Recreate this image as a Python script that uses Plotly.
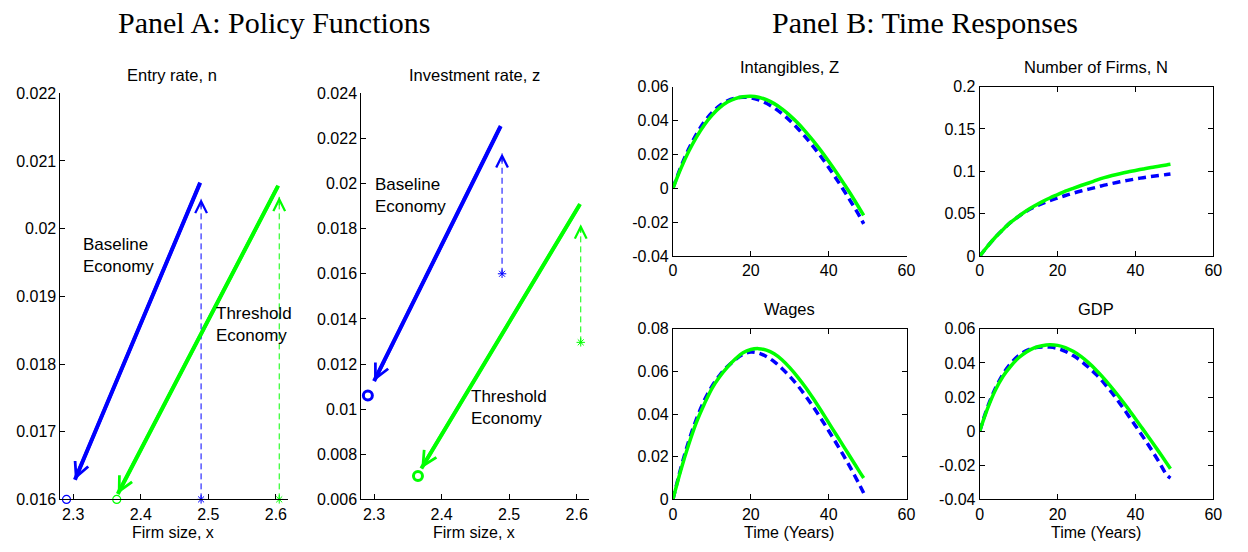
import plotly.graph_objects as go

# ---------------- data ----------------
# Panel A: policy functions (firm size x on horizontal axis)
# Entry rate, n
n_base_line_x = [2.488, 2.3025]
n_base_line_y = [0.02068, 0.01629]
n_thr_line_x = [2.6035, 2.3659]
n_thr_line_y = [0.020635, 0.01608]
n_base_jump_x = [2.4893, 2.4893]
n_base_jump_y = [0.0160, 0.02044]
n_thr_jump_x = [2.605, 2.605]
n_thr_jump_y = [0.0160, 0.02047]
n_base_circle = [2.290, 0.0160]
n_thr_circle = [2.3644, 0.0160]
n_text_base = [2.311, 0.01961]
n_text_thr = [2.509, 0.018578]

# Investment rate, z
z_base_line_x = [2.4875, 2.300]
z_base_line_y = [0.02255, 0.01124]
z_thr_line_x = [2.605, 2.370]
z_thr_line_y = [0.01909, 0.00737]
z_base_jump_x = [2.4895, 2.4895]
z_base_jump_y = [0.0160, 0.02134]
z_thr_jump_x = [2.606, 2.606]
z_thr_jump_y = [0.01296, 0.01819]
z_base_circle = [2.2908, 0.0106]
z_thr_circle = [2.365, 0.00704]
z_text_base = [2.298, 0.019476]
z_text_thr = [2.441, 0.010094]

# Panel B: time responses
t = [0, 2, 4, 6, 8, 10, 12, 14, 16, 18, 20, 22, 24, 26, 28, 30, 32, 34, 36, 38, 40, 42, 44, 46, 48, 49]

Z_base = [0, 0.0125, 0.0230, 0.0318, 0.0390, 0.0445, 0.0487, 0.0515, 0.0531, 0.0537, 0.0533, 0.0521, 0.0501,
          0.0474, 0.0440, 0.0400, 0.0354, 0.0303, 0.0247, 0.0187, 0.0123, 0.0055, -0.0016, -0.0090, -0.0167, -0.0210]
Z_thr = [0, 0.0115, 0.0215, 0.0300, 0.0372, 0.0430, 0.0475, 0.0508, 0.0529, 0.0540, 0.0543, 0.0537, 0.0522,
         0.0499, 0.0468, 0.0430, 0.0386, 0.0336, 0.0281, 0.0222, 0.0159, 0.0093, 0.0024, -0.0047, -0.0122, -0.0160]

N_base = [0, 0.0115, 0.0222, 0.0315, 0.0400, 0.0468, 0.0530, 0.0580, 0.0620, 0.0655, 0.0685, 0.0715, 0.0742,
          0.0767, 0.0790, 0.0812, 0.0837, 0.0857, 0.0876, 0.0893, 0.0910, 0.0925, 0.0938, 0.0950, 0.0962, 0.0968]
N_thr = [0, 0.0115, 0.0222, 0.0315, 0.0400, 0.0470, 0.0535, 0.0590, 0.0640, 0.0685, 0.0725, 0.0765, 0.0800,
         0.0833, 0.0862, 0.0895, 0.0925, 0.0950, 0.0972, 0.0992, 0.1010, 0.1028, 0.1045, 0.1060, 0.1075, 0.1082]

W_base = [0, 0.0145, 0.0270, 0.0375, 0.0462, 0.0530, 0.0582, 0.0623, 0.0655, 0.0680, 0.0691, 0.0686, 0.0670,
          0.0646, 0.0614, 0.0577, 0.0535, 0.0487, 0.0435, 0.0380, 0.0322, 0.0262, 0.0200, 0.0135, 0.0066, 0.0030]
W_thr = [0, 0.0135, 0.0255, 0.0360, 0.0445, 0.0520, 0.0575, 0.0620, 0.0658, 0.0688, 0.0703, 0.0707, 0.0700,
         0.0683, 0.0655, 0.0618, 0.0575, 0.0527, 0.0474, 0.0418, 0.0360, 0.0302, 0.0244, 0.0186, 0.0128, 0.0100]

Y_base = [0, 0.0140, 0.0250, 0.0335, 0.0398, 0.0443, 0.0472, 0.0488, 0.0494, 0.0493, 0.0485, 0.0468, 0.0443,
          0.0412, 0.0373, 0.0330, 0.0280, 0.0224, 0.0163, 0.0098, 0.0032, -0.0035, -0.0105, -0.0178, -0.0255, -0.0275]
Y_thr = [0, 0.0132, 0.0240, 0.0322, 0.0382, 0.0430, 0.0464, 0.0488, 0.0501, 0.0507, 0.0503, 0.0490, 0.0468,
         0.0438, 0.0400, 0.0356, 0.0307, 0.0253, 0.0196, 0.0136, 0.0073, 0.0009, -0.0055, -0.0120, -0.0186, -0.0220]

# tick labels
xA_ticks = [2.3, 2.4, 2.5, 2.6]
xA_text = ["2.3", "2.4", "2.5", "2.6"]
yn_ticks = [0.016, 0.017, 0.018, 0.019, 0.020, 0.021, 0.022]
yn_text = ["0.016", "0.017", "0.018", "0.019", "0.02", "0.021", "0.022"]
yz_ticks = [0.006, 0.008, 0.010, 0.012, 0.014, 0.016, 0.018, 0.020, 0.022, 0.024]
yz_text = ["0.006", "0.008", "0.01", "0.012", "0.014", "0.016", "0.018", "0.02", "0.022", "0.024"]
xB_ticks = [0, 20, 40, 60]
xB_text = ["0", "20", "40", "60"]
yZ_ticks = [-0.04, -0.02, 0, 0.02, 0.04, 0.06]
yZ_text = ["-0.04", "-0.02", "0", "0.02", "0.04", "0.06"]
yN_ticks = [0, 0.05, 0.1, 0.15, 0.2]
yN_text = ["0", "0.05", "0.1", "0.15", "0.2"]
yW_ticks = [0, 0.02, 0.04, 0.06, 0.08]
yW_text = ["0", "0.02", "0.04", "0.06", "0.08"]

# ---------------- styling ----------------
W, H = 1248, 552
BLUE = "rgb(0,0,255)"
GREEN = "rgb(0,255,0)"
SANS = "Liberation Sans, Arial, sans-serif"
SERIF = "Liberation Serif, Times New Roman, serif"


def xd(a, b):
    return [a / W, b / W]


def yd(top, bottom):
    return [1 - bottom / H, 1 - top / H]


fig = go.Figure()


def line(x, y, xa, ya, color, width, dash="solid"):
    fig.add_trace(go.Scatter(x=x, y=y, xaxis=xa, yaxis=ya, mode="lines",
                             line=dict(color=color, width=width, dash=dash),
                             showlegend=False, hoverinfo="skip", cliponaxis=False))


def marker(x, y, xa, ya, color, symbol, size, lw):
    fig.add_trace(go.Scatter(x=[x], y=[y], xaxis=xa, yaxis=ya, mode="markers",
                             marker=dict(symbol=symbol, size=size, color=color,
                                         line=dict(color=color, width=lw)),
                             showlegend=False, hoverinfo="skip", cliponaxis=False))


annotations = []


def head_solid(xs, ys, xa, ya, color):
    # arrow head at the last point of the line, shaft along the line
    annotations.append(dict(x=xs[1], y=ys[1], ax=xs[0], ay=ys[0], xref=xa, yref=ya,
                            axref=xa, ayref=ya, showarrow=True, arrowhead=5, arrowsize=0.8,
                            arrowwidth=3.5, arrowcolor=color, text="", standoff=0))


def head_dashed(xs, ys, xa, ya, color):
    annotations.append(dict(x=xs[1], y=ys[1], ax=0, ay=10, xref=xa, yref=ya,
                            showarrow=True, arrowhead=5, arrowsize=2.3,
                            arrowwidth=1, arrowcolor=color, text="", standoff=0))


# --- Panel A left: entry rate ---
line(n_base_line_x, n_base_line_y, "x", "y", BLUE, 4)
line(n_thr_line_x, n_thr_line_y, "x", "y", GREEN, 4)
head_solid(n_base_line_x, n_base_line_y, "x", "y", BLUE)
head_solid(n_thr_line_x, n_thr_line_y, "x", "y", GREEN)
line(n_base_jump_x, n_base_jump_y, "x", "y", BLUE, 1, "6px,4px")
line(n_thr_jump_x, n_thr_jump_y, "x", "y", GREEN, 1, "6px,4px")
head_dashed(n_base_jump_x, n_base_jump_y, "x", "y", BLUE)
head_dashed(n_thr_jump_x, n_thr_jump_y, "x", "y", GREEN)
marker(n_base_circle[0], n_base_circle[1], "x", "y", BLUE, "circle-open", 8, 1.2)
marker(n_thr_circle[0], n_thr_circle[1], "x", "y", GREEN, "circle-open", 8, 1.2)
marker(n_base_jump_x[0], n_base_jump_y[0], "x", "y", BLUE, "asterisk-open", 7, 1)
marker(n_thr_jump_x[0], n_thr_jump_y[0], "x", "y", GREEN, "asterisk-open", 7, 1)

# --- Panel A right: investment rate ---
line(z_base_line_x, z_base_line_y, "x2", "y2", BLUE, 4)
line(z_thr_line_x, z_thr_line_y, "x2", "y2", GREEN, 4)
head_solid(z_base_line_x, z_base_line_y, "x2", "y2", BLUE)
head_solid(z_thr_line_x, z_thr_line_y, "x2", "y2", GREEN)
line(z_base_jump_x, z_base_jump_y, "x2", "y2", BLUE, 1, "6px,4px")
line(z_thr_jump_x, z_thr_jump_y, "x2", "y2", GREEN, 1, "6px,4px")
head_dashed(z_base_jump_x, z_base_jump_y, "x2", "y2", BLUE)
head_dashed(z_thr_jump_x, z_thr_jump_y, "x2", "y2", GREEN)
marker(z_base_circle[0], z_base_circle[1], "x2", "y2", BLUE, "circle-open", 9, 3)
marker(z_thr_circle[0], z_thr_circle[1], "x2", "y2", GREEN, "circle-open", 9, 3)
marker(z_base_jump_x[0], z_base_jump_y[0], "x2", "y2", BLUE, "asterisk-open", 7, 1)
marker(z_thr_jump_x[0], z_thr_jump_y[0], "x2", "y2", GREEN, "asterisk-open", 7, 1)

# --- Panel B ---
for (yb, yt, xa, ya) in [(Z_base, Z_thr, "x3", "y3"), (N_base, N_thr, "x4", "y4"),
                         (W_base, W_thr, "x5", "y5"), (Y_base, Y_thr, "x6", "y6")]:
    fig.add_trace(go.Scatter(x=t, y=yb, xaxis=xa, yaxis=ya, mode="lines",
                             line=dict(color=BLUE, width=3.5, dash="8px,5px", shape="spline"),
                             showlegend=False, hoverinfo="skip"))
    fig.add_trace(go.Scatter(x=t, y=yt, xaxis=xa, yaxis=ya, mode="lines",
                             line=dict(color=GREEN, width=3.5, shape="spline"),
                             showlegend=False, hoverinfo="skip"))

# text labels inside Panel A
for (pos, txt, xa, ya) in [(n_text_base, "Baseline<br>Economy", "x", "y"),
                           (n_text_thr, "Threshold<br>Economy", "x", "y"),
                           (z_text_base, "Baseline<br>Economy", "x2", "y2"),
                           (z_text_thr, "Threshold<br>Economy", "x2", "y2")]:
    annotations.append(dict(x=pos[0], y=pos[1], xref=xa, yref=ya, text=txt, showarrow=False,
                            xanchor="left", yanchor="middle", align="left",
                            font=dict(family=SANS, size=17, color="black")))


def ptext(px, py, txt, size, family=SANS):
    annotations.append(dict(x=px / W, y=1 - py / H, xref="paper", yref="paper", text=txt,
                            showarrow=False, xanchor="center", yanchor="middle",
                            font=dict(family=family, size=size, color="black")))


ptext(273, 15, "Panel A: Policy Functions", 30, SERIF)
ptext(931, 15, "Panel B: Time Responses", 30, SERIF)
ptext(170, 69, "Entry rate, n", 16.5)
ptext(475, 69, "Investment rate, z", 16.5)
ptext(794, 61, "Intangibles, Z", 16.5)
ptext(1103, 61, "Number of Firms, N", 16.5)
ptext(794, 311, "Wages", 16.5)
ptext(1103, 311, "GDP", 16.5)
ptext(171, 541, "Firm size, x", 16)
ptext(475, 541, "Firm size, x", 16)
ptext(793, 541, "Time (Years)", 16)
ptext(1103, 541, "Time (Years)", 16)


def ax(domain, rng, tv, tt, anchor, mirror=False):
    return dict(domain=domain, range=rng, tickvals=tv, ticktext=tt, anchor=anchor,
                showline=True, linecolor="black", linewidth=1, mirror="ticks" if mirror else False,
                ticks="inside", ticklen=5, tickcolor="black", tickwidth=1,
                showgrid=False, zeroline=False, fixedrange=True,
                tickfont=dict(family=SANS, size=16, color="black"))


fig.update_layout(
    width=W, height=H, margin=dict(l=0, r=0, t=0, b=0),
    paper_bgcolor="white", plot_bgcolor="white", showlegend=False,
    xaxis=ax(xd(57, 287), [2.281, 2.618], xA_ticks, xA_text, "y"),
    yaxis=ax(yd(88, 507), [0.016, 0.022], yn_ticks, yn_text, "x"),
    xaxis2=ax(xd(361, 591), [2.281, 2.618], xA_ticks, xA_text, "y2"),
    yaxis2=ax(yd(88, 507), [0.006, 0.024], yz_ticks, yz_text, "x2"),
    xaxis3=ax(xd(676, 912), [0, 60], xB_ticks, xB_text, "y3"),
    yaxis3=ax(yd(81, 256), [-0.04, 0.06], yZ_ticks, yZ_text, "x3"),
    xaxis4=ax(xd(986, 1222), [0, 60], xB_ticks, xB_text, "y4", True),
    yaxis4=ax(yd(81, 256), [0, 0.2], yN_ticks, yN_text, "x4", True),
    xaxis5=ax(xd(676, 912), [0, 60], xB_ticks, xB_text, "y5", True),
    yaxis5=ax(yd(331, 507), [0, 0.08], yW_ticks, yW_text, "x5", True),
    xaxis6=ax(xd(986, 1222), [0, 60], xB_ticks, xB_text, "y6", True),
    yaxis6=ax(yd(331, 507), [-0.04, 0.06], yZ_ticks, yZ_text, "x6", True),
    annotations=annotations,
)

fig.write_html("out.html")
